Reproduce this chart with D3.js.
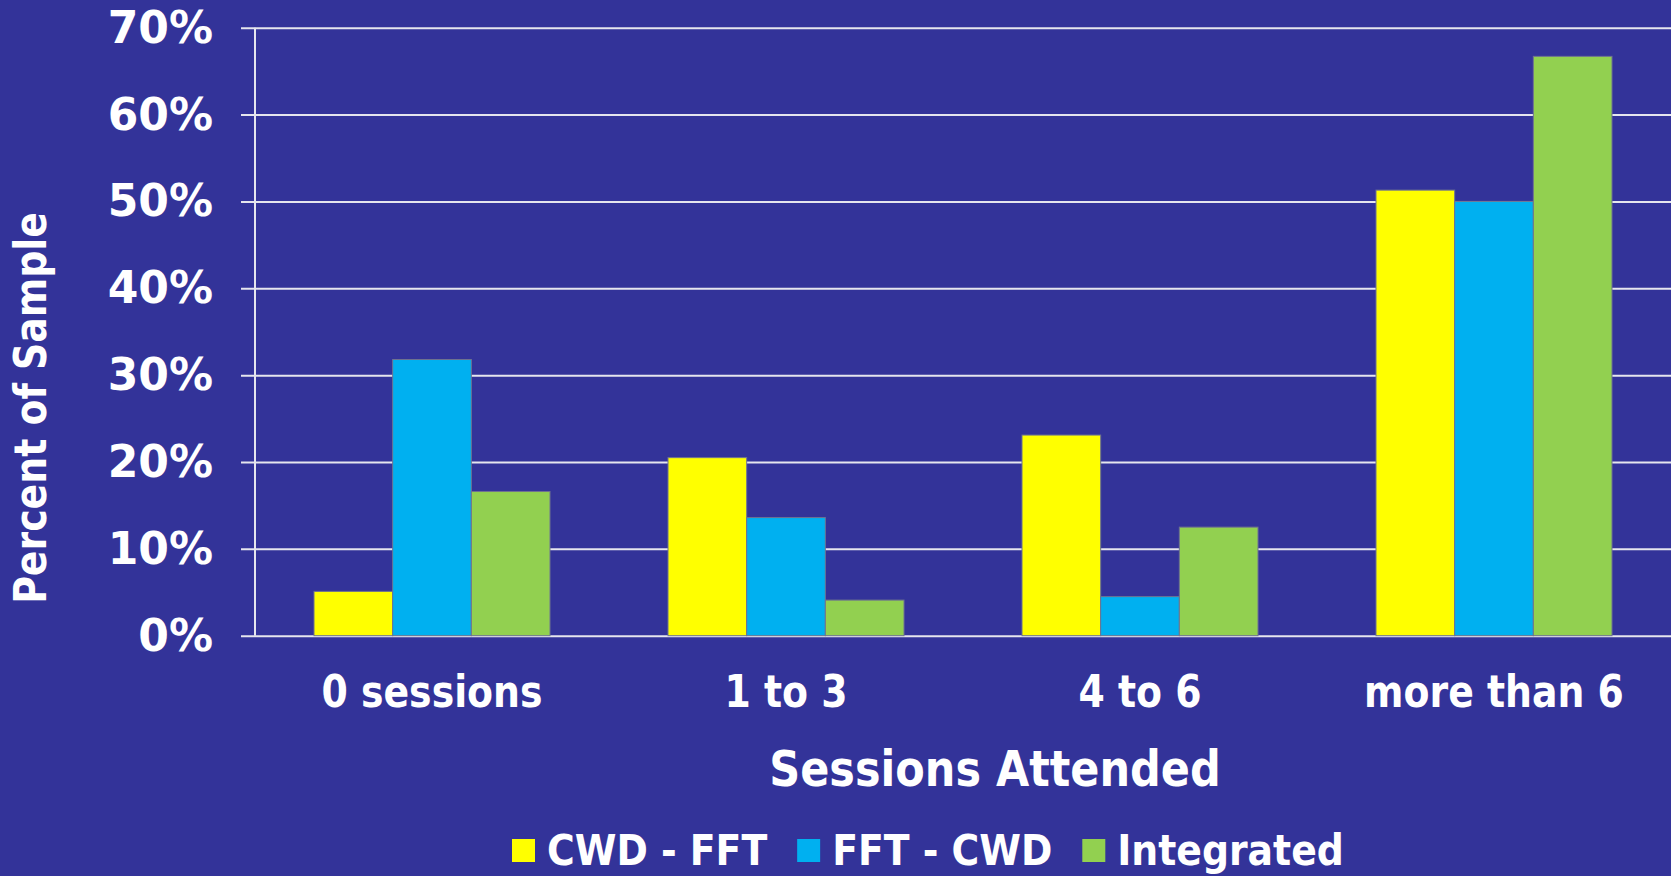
<!DOCTYPE html>
<html>
<head>
<meta charset="utf-8">
<script src="https://cdn.jsdelivr.net/npm/d3@7/dist/d3.min.js"></script>
<style>
	html, body { margin: 0; padding: 0; background: #333399; overflow: hidden; }
	svg { display: block; }
	text { font-family: "DejaVu Sans", Verdana, sans-serif; font-weight: bold; fill: #fff; }
</style>
</head>
<body>
<svg id="chart" width="1671" height="876"></svg>
<script>
const categories = ["0 sessions", "1 to 3", "4 to 6", "more than 6"];
const seriesNames = ["CWD - FFT", "FFT - CWD", "Integrated"];
const cwdFft = [0.051, 0.205, 0.231, 0.513];
const fftCwd = [0.318, 0.136, 0.045, 0.500];
const integrated = [0.166, 0.041, 0.125, 0.667];
const yTicks = [0, 0.1, 0.2, 0.3, 0.4, 0.5, 0.6, 0.7];
const seriesColors = ["#ffff00", "#00b0f0", "#92d050"];

const width = 1671;
const squeeze = 0.86; // the original font is narrower than DejaVu

let svg = d3.select("#chart");
let values = [cwdFft, fftCwd, integrated];

let x = d3.scaleBand()
	.domain(categories)
	.range([255, width])
	.paddingInner(1 / 3)
	.paddingOuter(1 / 6);

let xSeries = d3.scaleBand()
	.domain(seriesNames)
	.range([0, x.bandwidth()]);

let y = d3.scaleLinear()
	.domain([0, 0.7])
	.range([635.7, 27.7]);

// gridlines + tick labels
let yAxis = svg.append("g")
	.attr("transform", "translate(241,0)")
	.call(d3.axisLeft(y)
		.tickValues(yTicks)
		.tickFormat(d3.format(".0%"))
		.tickSize(-(width - 241))
		.tickPadding(28));
yAxis.select(".domain").remove();
yAxis.selectAll("line")
	.attr("stroke", "#e6e6ee")
	.attr("stroke-width", 2);
yAxis.selectAll("text")
	.attr("font-size", 44)
	.attr("font-family", null)
	.attr("dy", "0.33em");

svg.append("line")
	.attr("x1", 255).attr("x2", 255)
	.attr("y1", y(0.7)).attr("y2", y(0))
	.attr("stroke", "#e6e6ee")
	.attr("stroke-width", 2);

// bars
let groups = svg.selectAll(".group")
	.data(categories)
	.join("g")
	.attr("class", "group")
	.attr("transform", d => `translate(${x(d)},0)`);

groups.selectAll("rect")
	.data((d, i) => seriesNames.map((name, s) => ({ name, s, value: values[s][i] })))
	.join("rect")
	.attr("x", d => xSeries(d.name))
	.attr("width", xSeries.bandwidth())
	.attr("y", d => y(d.value))
	.attr("height", d => y(0) - y(d.value))
	.attr("fill", d => seriesColors[d.s])
	.attr("stroke", "#6f7390")
	.attr("stroke-width", 1);

// category labels
let xAxis = svg.append("g")
	.attr("transform", `translate(0,${y(0)})`)
	.call(d3.axisBottom(x).tickSize(0).tickPadding(40));
xAxis.select(".domain").remove();
xAxis.selectAll("text")
	.attr("font-size", 44)
	.attr("font-family", null)
	.attr("transform", `scale(${squeeze},1)`);

// axis titles
svg.append("text")
	.attr("transform", `translate(995,786) scale(${squeeze},1)`)
	.attr("text-anchor", "middle")
	.attr("font-size", 50)
	.text("Sessions Attended");

svg.append("text")
	.attr("transform", `translate(46,408) rotate(-90) scale(${squeeze},1)`)
	.attr("text-anchor", "middle")
	.attr("font-size", 44)
	.text("Percent of Sample");

// legend (kept just inside the bottom edge)
let legendSqueeze = 0.9;
let legend = svg.append("g").attr("transform", "translate(512,0)");
let offset = 0;
seriesNames.forEach((name, s) => {
	let item = legend.append("g").attr("transform", `translate(${offset},0)`);
	item.append("rect")
		.attr("y", 839)
		.attr("width", 23)
		.attr("height", 23)
		.attr("fill", seriesColors[s]);
	let label = item.append("text")
		.attr("transform", `translate(35,865) scale(${legendSqueeze},1)`)
		.attr("font-size", 42)
		.text(name);
	offset += 35 + label.node().getComputedTextLength() * legendSqueeze + 30;
});
</script>
</body>
</html>
